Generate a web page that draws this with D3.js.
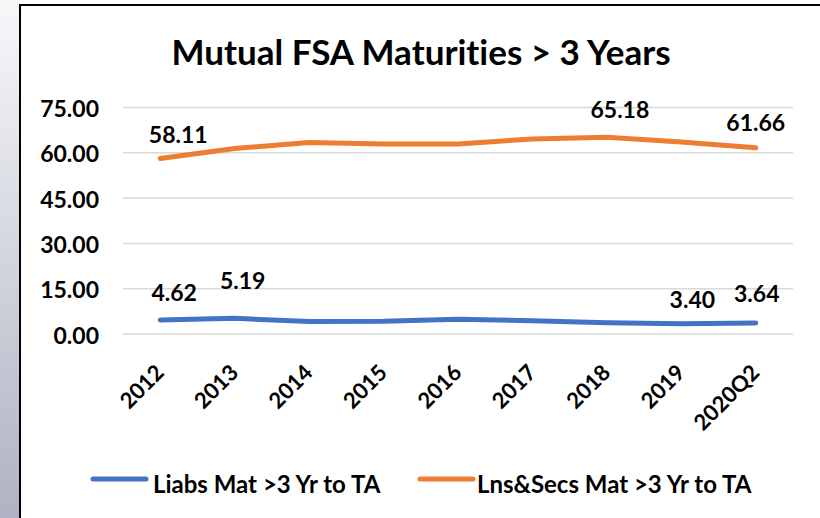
<!DOCTYPE html>
<html>
<head>
<meta charset="utf-8">
<script src="https://cdn.jsdelivr.net/npm/d3@7"></script>
<style>
  html, body { margin: 0; padding: 0; background: #ffffff; }
  svg { display: block; }
  text { font-family: Lato, "Open Sans", sans-serif; font-weight: 700; fill: #000; font-variant-ligatures: none; }
</style>
</head>
<body>
<svg id="chart" width="820" height="518"></svg>
<script>
// Chart data
const categories = ["2012", "2013", "2014", "2015", "2016", "2017", "2018", "2019", "2020Q2"];
const liabsMat = [4.62, 5.19, 4.10, 4.20, 4.85, 4.40, 3.75, 3.40, 3.64];
const lnsSecsMat = [58.11, 61.40, 63.40, 62.90, 62.90, 64.60, 65.18, 63.60, 61.66];
const yTicks = [0, 15, 30, 45, 60, 75];
const seriesNames = ["Liabs Mat >3 Yr to TA", "Lns&Secs Mat >3 Yr to TA"];
const seriesColors = ["#4472C4", "#ED7D31"];
const titleText = "Mutual FSA Maturities > 3 Years";

// Points that carry a value label: [series index, category index]
const labelled = [[0, 0], [0, 1], [0, 7], [0, 8], [1, 0], [1, 6], [1, 8]];
// Hand placement of each value label relative to its point: [dx, dy]
const labelNudge = [[14, -28], [8, -38], [11, -25], [1, -30], [18, -25], [13, -28], [0, -26]];

const svg = d3.select("#chart");
const W = 820, H = 518;

// Slide background strip and chart frame
const defs = svg.append("defs");
const grad = defs.append("linearGradient").attr("id", "strip").attr("x1", 0).attr("y1", 0).attr("x2", 0).attr("y2", 1);
grad.append("stop").attr("offset", "0%").attr("stop-color", "#f7f8fa");
grad.append("stop").attr("offset", "100%").attr("stop-color", "#aeb2c2");
svg.append("rect").attr("x", 0).attr("y", 0).attr("width", 20).attr("height", H).attr("fill", "url(#strip)");
svg.append("rect").attr("x", 20).attr("y", 5).attr("width", W - 20).attr("height", H - 5).attr("fill", "#fff");
svg.append("line").attr("x1", 20).attr("x2", 20).attr("y1", 4).attr("y2", H).attr("stroke", "#000").attr("stroke-width", 2);
svg.append("line").attr("x1", 19).attr("x2", W).attr("y1", 5).attr("y2", 5).attr("stroke", "#000").attr("stroke-width", 2);

// Scales
const x = d3.scaleBand().domain(categories).range([123, 793]);
const y = d3.scaleLinear().domain([0, 75]).range([334, 107.5]);
const cx = d => x(d) + x.bandwidth() / 2;

// Title
svg.append("text").attr("x", 421).attr("y", 65).attr("text-anchor", "middle")
  .style("font-size", "35px").text(titleText);

// Gridlines
svg.append("g").selectAll("line").data(yTicks).join("line")
  .attr("x1", 123).attr("x2", 793)
  .attr("y1", d => y(d)).attr("y2", d => y(d))
  .attr("stroke", "#d9d9d9").attr("stroke-width", 1.5);

// Y axis labels
const yAxis = d3.axisLeft(y).tickValues(yTicks).tickFormat(d3.format(".2f")).tickSize(0).tickPadding(0);
const yg = svg.append("g").attr("transform", "translate(99,0)").call(yAxis);
yg.select(".domain").remove();
yg.selectAll("text").attr("dy", null).attr("y", 9)
  .style("font-size", "23px").style("font-family", "Lato, sans-serif").style("font-weight", 700).attr("fill", "#000");

// X axis labels, rotated
const xAxis = d3.axisBottom(x).tickSize(0).tickPadding(0);
const xg = svg.append("g").call(xAxis);
xg.select(".domain").remove();
xg.selectAll(".tick").attr("transform", d => `translate(${cx(d) + 5},374)`);
xg.selectAll("text").attr("y", 0).attr("dy", null)
  .attr("text-anchor", "end").attr("transform", "rotate(-45)")
  .style("font-size", "22px").style("font-family", "Lato, sans-serif").style("font-weight", 700).attr("fill", "#000");

// Lines
const series = [liabsMat, lnsSecsMat];
const line = d3.line().x((d, i) => cx(categories[i])).y(d => y(d));
svg.append("g").selectAll("path").data(series).join("path")
  .attr("d", d => line(d))
  .attr("fill", "none")
  .attr("stroke", (d, i) => seriesColors[i])
  .attr("stroke-width", 5)
  .attr("stroke-linecap", "round")
  .attr("stroke-linejoin", "round");

// Value labels
svg.append("g").selectAll("text").data(labelled).join("text")
  .attr("x", (d, k) => cx(categories[d[1]]) + labelNudge[k][0])
  .attr("y", (d, k) => y(series[d[0]][d[1]]) + labelNudge[k][1])
  .attr("text-anchor", "middle").attr("dominant-baseline", "central")
  .style("font-size", "23px")
  .text(d => d3.format(".2f")(series[d[0]][d[1]]));

// Legend
const legendItems = [
  { lx: 93, tx: 153 },
  { lx: 420, tx: 477 }
];
const lg = svg.append("g").selectAll("g").data(seriesNames).join("g");
lg.append("line")
  .attr("x1", (d, i) => legendItems[i].lx).attr("x2", (d, i) => legendItems[i].lx + 53)
  .attr("y1", 479).attr("y2", 479)
  .attr("stroke", (d, i) => seriesColors[i]).attr("stroke-width", 5).attr("stroke-linecap", "round");
lg.append("text")
  .attr("x", (d, i) => legendItems[i].tx).attr("y", 487)
  .attr("dominant-baseline", "middle")
  .style("font-size", "24px")
  .text(d => d);
</script>
</body>
</html>
